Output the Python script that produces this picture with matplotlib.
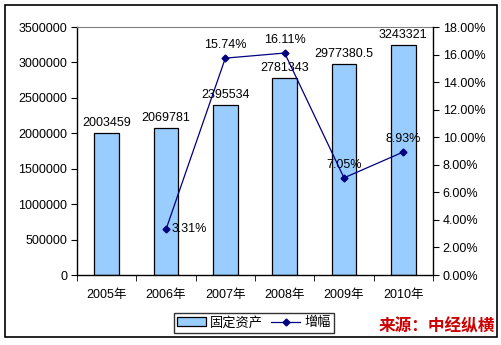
import matplotlib.pyplot as plt
from matplotlib.patches import Rectangle
import numpy as np

plt.rcParams['font.family'] = ['Liberation Sans', 'Noto Sans CJK SC', 'DejaVu Sans']

years = ['2005年', '2006年', '2007年', '2008年', '2009年', '2010年']
assets = [2003459, 2069781, 2395534, 2781343, 2977380.5, 3243321]
asset_labels = ['2003459', '2069781', '2395534', '2781343', '2977380.5', '3243321']
growth = [3.31, 15.74, 16.11, 7.05, 8.93]  # 2006-2010
growth_labels = ['3.31%', '15.74%', '16.11%', '7.05%', '8.93%']

W, H = 502, 345
fig = plt.figure(figsize=(W / 100, H / 100), dpi=100)
fig.patches.append(Rectangle((5 / W, 8 / H), 492 / W, 332 / H, transform=fig.transFigure,
                             fill=False, edgecolor='black', linewidth=1.2))

ax = fig.add_axes([77 / W, 1 - 275 / H, (433 - 77) / W, (275 - 27) / H])
x = np.arange(len(years))
bars = ax.bar(x, assets, width=0.42, color='#99ccff', edgecolor='black', linewidth=0.9,
              label='固定资产', zorder=2)
ax.set_xlim(-0.5, len(years) - 0.5)
ax.set_ylim(0, 3500000)
ax.set_yticks(np.arange(0, 3500001, 500000))
ax.set_yticklabels([str(v) for v in range(0, 3500001, 500000)])
ax.set_xticks(x)
ax.set_xticklabels(years)
ax.set_xticks(np.arange(-0.5, len(years)), minor=True)
ax.tick_params(axis='x', which='major', length=0, pad=10, labelsize=9)
ax.tick_params(axis='x', which='minor', length=4, direction='out')
ax.tick_params(axis='y', length=4, direction='out', labelsize=9, pad=3)
ax.spines['top'].set_color('#808080')
ax.spines['right'].set_visible(False)
for s in ['left', 'bottom']:
    ax.spines[s].set_linewidth(1.0)

for xi, v, lab in zip(x, assets, asset_labels):
    ax.text(xi, v + 60000, lab, ha='center', va='bottom', fontsize=9, zorder=5)

ax2 = ax.twinx()
ax2.set_ylim(0, 18)
ax2.set_yticks(np.arange(0, 18.1, 2))
ax2.set_yticklabels(['%.2f%%' % v for v in np.arange(0, 18.1, 2)])
ax2.tick_params(axis='y', length=4, direction='out', labelsize=9, pad=3)
for s in ['top', 'left', 'bottom']:
    ax2.spines[s].set_visible(False)
ax2.spines['right'].set_linewidth(1.0)
line, = ax2.plot(x[1:], growth, color='#000080', linewidth=0.9, marker='D', markersize=3.5,
                 label='增幅', zorder=4)
for i, (xi, v, lab) in enumerate(zip(x[1:], growth, growth_labels)):
    if i == 0:
        ax2.text(xi + 0.1, v, lab, ha='left', va='center', fontsize=9)
    else:
        ax2.text(xi, v + 0.5, lab, ha='center', va='bottom', fontsize=9)

leg = fig.legend([bars, line], ['固定资产', '增幅'], loc='center',
                 bbox_to_anchor=(254 / W, 1 - 323 / H), ncol=2, fontsize=9.5,
                 frameon=True, fancybox=False, edgecolor='black', handlelength=2.2,
                 handletextpad=0.3, columnspacing=0.6, borderpad=0.25)
leg.get_frame().set_linewidth(1.0)

fig.text(495 / W, 1 - 326 / H, '来源：中经纵横', ha='right', va='center', color='#cc0000',
         fontsize=12, fontweight='bold', style='italic', family=['Noto Sans CJK SC'])

fig.savefig('out.png', dpi=100)
